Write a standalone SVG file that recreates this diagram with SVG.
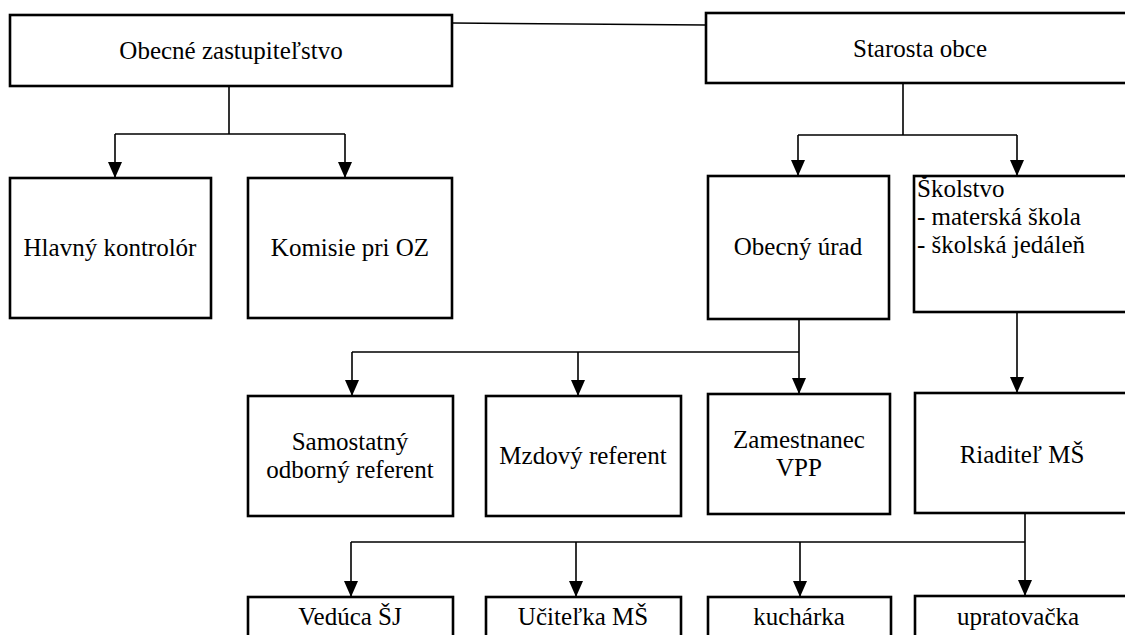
<svg xmlns="http://www.w3.org/2000/svg" width="1125" height="635" viewBox="0 0 1125 635">
<style>
.box{fill:#fff;stroke:#000;stroke-width:2.6}
.t{font-family:"Liberation Serif","Times New Roman",serif;font-size:25px;fill:#000;text-anchor:middle}
.tl{font-family:"Liberation Serif","Times New Roman",serif;font-size:25px;fill:#000;text-anchor:start}
.c{fill:none;stroke:#000;stroke-width:1.6}
</style>
<defs>
<marker id="arr" markerUnits="userSpaceOnUse" markerWidth="16" markerHeight="14" refX="16" refY="7" orient="auto">
<path d="M0,0 L16,7 L0,14 z" fill="#000"/>
</marker>
</defs>
<rect width="1125" height="635" fill="#fff"/>
<g id="connectors">
<path class="c" d="M452,23 L706,25"/>
<path class="c" d="M229,86 L229,134 M115,134 L345,134"/>
<path class="c" d="M115,134 L115,178" marker-end="url(#arr)"/>
<path class="c" d="M345,134 L345,178" marker-end="url(#arr)"/>
<path class="c" d="M903,83 L903,135 M798,135 L1017,135"/>
<path class="c" d="M798,135 L798,176" marker-end="url(#arr)"/>
<path class="c" d="M1017,135 L1017,176" marker-end="url(#arr)"/>
<path class="c" d="M799,319 L799,352 M352,352 L799,352"/>
<path class="c" d="M352,352 L352,396" marker-end="url(#arr)"/>
<path class="c" d="M578,352 L578,396" marker-end="url(#arr)"/>
<path class="c" d="M799,352 L799,394" marker-end="url(#arr)"/>
<path class="c" d="M1017,312 L1017,393" marker-end="url(#arr)"/>
<path class="c" d="M1025,513 L1025,542 M351,542 L1025,542"/>
<path class="c" d="M351,542 L351,597" marker-end="url(#arr)"/>
<path class="c" d="M576,542 L576,597" marker-end="url(#arr)"/>
<path class="c" d="M800,542 L800,597" marker-end="url(#arr)"/>
<path class="c" d="M1025,542 L1025,596" marker-end="url(#arr)"/>
</g>
<g id="n-oz"><rect class="box" x="10" y="15" width="442" height="71"/><text class="t" x="231" y="59">Obecné zastupiteľstvo</text></g>
<g id="n-starosta"><rect class="box" x="706" y="13" width="430" height="70"/><text class="t" x="920" y="57">Starosta obce</text></g>
<g id="n-kontrolor"><rect class="box" x="10" y="178" width="201" height="140"/><text class="t" x="110" y="256">Hlavný kontrolór</text></g>
<g id="n-komisie"><rect class="box" x="248" y="178" width="204" height="140"/><text class="t" x="350" y="256">Komisie pri OZ</text></g>
<g id="n-urad"><rect class="box" x="708" y="176" width="181" height="143"/><text class="t" x="798" y="255">Obecný úrad</text></g>
<g id="n-skolstvo"><rect class="box" x="914" y="176" width="222" height="136"/><text class="tl" x="917" y="197">Školstvo</text><text class="tl" x="917" y="225">- materská škola</text><text class="tl" x="917" y="253">- školská jedáleň</text></g>
<g id="n-samostatny"><rect class="box" x="248" y="396" width="205" height="120"/><text class="t" x="350" y="450">Samostatný</text><text class="t" x="350" y="478">odborný referent</text></g>
<g id="n-mzdovy"><rect class="box" x="486" y="396" width="195" height="120"/><text class="t" x="583" y="464">Mzdový referent</text></g>
<g id="n-vpp"><rect class="box" x="708" y="394" width="182" height="120"/><text class="t" x="799" y="448">Zamestnanec</text><text class="t" x="799" y="476">VPP</text></g>
<g id="n-riaditel"><rect class="box" x="915" y="393" width="221" height="120"/><text class="t" x="1022" y="463">Riaditeľ MŠ</text></g>
<g id="n-veduca"><rect class="box" x="248" y="597" width="205" height="60"/><text class="t" x="350" y="625">Vedúca ŠJ</text></g>
<g id="n-ucitelka"><rect class="box" x="486" y="597" width="195" height="60"/><text class="t" x="583" y="625">Učiteľka MŠ</text></g>
<g id="n-kucharka"><rect class="box" x="708" y="597" width="183" height="60"/><text class="t" x="799" y="625">kuchárka</text></g>
<g id="n-upratovacka"><rect class="box" x="915" y="596" width="221" height="60"/><text class="t" x="1018" y="625">upratovačka</text></g>
</svg>
